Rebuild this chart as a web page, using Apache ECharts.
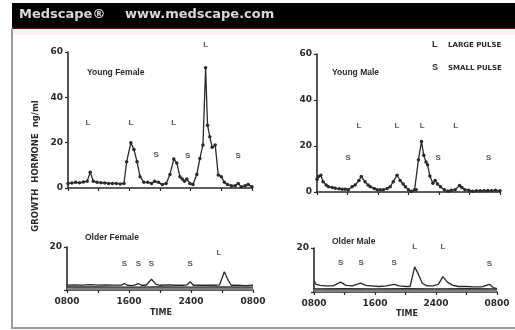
<!DOCTYPE html>
<html><head><meta charset="utf-8">
<script src="https://cdn.jsdelivr.net/npm/echarts@6/dist/echarts.min.js"></script>
<style>html,body{margin:0;padding:0;background:#fff}#c{width:515px;height:330px}</style>
</head><body><div id="c"></div>
<script>
// ---- tick labels ----
const xTickHours = [0, 8, 16, 24];
const xTickLabels = ['0800', '1600', '2400', '0800'];

// ---- Young Female (hours after 0800, ng/ml) ----
const yfHours = [0,0.5,1,1.5,2,2.5,2.9,3.3,3.8,4.3,4.8,5.3,5.8,6.3,6.8,7.3,7.65,8.2,8.6,9.0,9.4,9.9,10.4,10.9,11.3,11.8,12.3,12.8,13.3,13.8,14.2,14.6,14.9,15.2,15.5,15.9,16.3,16.8,17.2,17.6,17.95,18.2,18.5,18.8,19.2,19.6,20.0,20.4,20.8,21.3,21.8,22.2,22.6,23.1,23.5,24];
const yfValues = [2,2.2,2.5,2.3,2.6,3,7,3,2.5,2.3,2.2,2,2,2,1.8,2,11.6,20,17,11.6,5,2.5,2.5,2,3,2.5,1.5,2,6,12.8,11,5,4,3,4,2,1.5,6,13,19,53,27.7,22.6,18,19,5.7,5,2.5,1.5,1,1,2,0.5,1,1.5,0.5];
const yfPulseHours = [2.6,8.2,11.5,13.8,15.6,17.95,22.2];
const yfPulseValues = [28.7,28.7,14.5,28.7,14,63,14];
const yfPulseTypes = ['L','L','S','L','S','L','S'];

// ---- Young Male ----
const ymHours = [0,0.2,0.5,0.8,1.2,1.5,2,2.4,2.9,3.3,3.7,4.1,4.6,5,5.5,5.8,6.3,6.7,7,7.5,7.9,8.3,8.7,9.2,9.6,10,10.5,10.9,11.3,11.6,12,12.4,12.8,13.0,13.3,13.7,14,14.3,14.5,14.8,15.2,15.5,15.8,16.2,16.7,17.2,17.6,18.1,18.7,19,19.4,19.9,20.4,20.9,21.4,21.9,22.4,22.9,23.4,24];
const ymValues = [5.5,6.7,7.3,4.5,3,2.3,2,1.6,1.4,1.2,1.2,1,2.3,3,5,6.7,4.5,3,2.3,1.5,1,1,1,1.5,2.3,4.5,7.3,5,3.5,2.3,1,0.3,1,1,14,22,16,13,11.8,7,3.8,5,3.5,2.3,1,0.3,0.8,1,2.8,2,1,0.8,0.3,0.5,0.5,0.5,0.7,0.5,0.8,0.5];
const ymPulseHours = [4.1,5.5,10.5,13.8,15.9,18.2,22.5];
const ymPulseValues = [14.8,29,29,29,14.8,29,15];
const ymPulseTypes = ['S','L','L','L','S','L','S'];

// ---- Older Female ----
const ofHours = [0,1,2,3,4,5,6,7,7.4,7.8,8.3,8.8,9.2,9.6,10.2,10.9,11.5,12,13,14,15,15.5,15.9,16.3,17,18,19,19.7,20.3,20.8,21.2,22,23,24];
const ofValues = [2.3,2.4,2.3,2.5,2.3,2.4,2.3,2.3,3,2.2,2,2.4,3,2.2,2.2,5,2.6,2.2,2.4,2.2,2.2,2.4,3.8,2.2,2.2,2.3,2.2,2.4,8.5,4.5,2.2,2.2,2,2.2];
const ofBaseHours = [0,4,8,12,16,20,24];
const ofBaseValues = [1.5,1.5,1.3,1.5,1.4,1.5,1.4];
const ofPulseHours = [7.4,9.2,10.9,15.9,19.6];
const ofPulseValues = [12,12,12,12,17.5];
const ofPulseTypes = ['S','S','S','S','L'];

// ---- Older Male ----
const omHours = [0,0.3,0.8,1.5,2.5,3.5,4.2,5,6.1,6.8,7.5,8.5,9.5,10.5,11.2,12,12.6,13.2,13.7,14.2,14.8,15.6,16.3,16.9,17.5,18.2,19,20,21,22,23,23.5,24];
const omValues = [5,3.5,3,2.8,2.8,4.5,3,2.8,4,3,2.8,2.5,2.8,3.5,2.8,2.5,2.5,11.4,8,4,2.8,2.8,3.5,7,4.5,3,2.5,2.5,2.3,2.3,3.5,2,1.5];
const omBaseHours = [0,4,8,12,16,20,24];
const omBaseValues = [1.4,1.5,1.4,1.5,1.4,1.5,1.4];
const omPulseHours = [3.5,6.2,10.5,13.2,16.9,23];
const omPulseValues = [13.5,13.5,13.5,20.5,20.5,13];
const omPulseTypes = ['S','S','S','L','L','S'];

const INK = '#2a2a2a';
const zip = (a, b) => a.map((h, i) => [h, b[i]]);
const zip3 = (a, b, c) => a.map((h, i) => [h, b[i], c[i]]);

function xAxisFor(gi, showLabels) {
  return {
    type: 'value', gridIndex: gi, min: 0, max: 24, interval: 4,
    axisLine: { show: true, onZero: false, lineStyle: { color: INK, width: 1.6 } },
    axisTick: { show: true, length: 3, lineStyle: { color: INK, width: 1.2 } },
    splitLine: { show: false },
    axisLabel: {
      show: showLabels, showMinLabel: true, showMaxLabel: true, hideOverlap: false,
      formatter: v => { const i = xTickHours.indexOf(v); return i >= 0 ? xTickLabels[i] : ''; },
      color: INK, fontFamily: 'DejaVu Sans', fontWeight: 'bold', fontSize: 9, margin: 7
    }
  };
}
function yAxisFor(gi, max, hideZero) {
  return {
    type: 'value', gridIndex: gi, min: 0, max: max, interval: 20,
    axisLine: { show: true, lineStyle: { color: INK, width: 1.6 } },
    axisTick: { show: true, length: 3, lineStyle: { color: INK, width: 1.2 } },
    splitLine: { show: false },
    axisLabel: {
      showMinLabel: true, showMaxLabel: true,
      formatter: v => (hideZero && v === 0) ? '' : String(v),
      color: INK, fontFamily: 'DejaVu Sans', fontWeight: 'bold', fontSize: 9, margin: 5
    }
  };
}
function dataLine(gi, data, withDots) {
  return {
    type: 'line', xAxisIndex: gi, yAxisIndex: gi, data: data,
    showSymbol: withDots, symbol: 'circle', symbolSize: 3.5,
    itemStyle: { color: INK }, lineStyle: { color: INK, width: 1.3 },
    silent: true, z: 3
  };
}
function baseLine(gi, data) {
  return {
    type: 'line', xAxisIndex: gi, yAxisIndex: gi, data: data, showSymbol: false,
    lineStyle: { color: INK, width: 1.2 }, areaStyle: { color: '#808080', opacity: 1 },
    silent: true, z: 2
  };
}
function pulseLabels(gi, data) {
  return {
    type: 'scatter', xAxisIndex: gi, yAxisIndex: gi, data: data, clip: false,
    symbol: 'circle', symbolSize: 1, itemStyle: { color: 'rgba(0,0,0,0)' },
    label: { show: true, position: 'inside', formatter: p => p.value[2],
      color: INK, fontFamily: 'Liberation Sans', fontWeight: 'bold', fontSize: 8 },
    silent: true, z: 4
  };
}

const txt = (x, y, s, size, extra) => ({
  type: 'text', x: x, y: y, silent: true,
  style: Object.assign({ text: s, fill: INK, fontFamily: 'Liberation Sans', fontWeight: 'bold',
    fontSize: size, textAlign: 'left', textVerticalAlign: 'middle' }, extra || {})
});

const chart = echarts.init(document.getElementById('c'), null, { renderer: 'canvas' });
chart.setOption({
  animation: false,
  backgroundColor: '#ffffff',
  grid: [
    { left: 68, top: 52, width: 184, height: 136 },
    { left: 317, top: 54, width: 183, height: 138 },
    { left: 67, top: 247, width: 186, height: 43 },
    { left: 314, top: 248, width: 183, height: 44 }
  ],
  xAxis: [xAxisFor(0, false), xAxisFor(1, false), xAxisFor(2, true), xAxisFor(3, true)],
  yAxis: [yAxisFor(0, 60, false), yAxisFor(1, 60, false), yAxisFor(2, 20, true), yAxisFor(3, 20, true)],
  series: [
    dataLine(0, zip(yfHours, yfValues), true),
    pulseLabels(0, zip3(yfPulseHours, yfPulseValues, yfPulseTypes)),
    dataLine(1, zip(ymHours, ymValues), true),
    pulseLabels(1, zip3(ymPulseHours, ymPulseValues, ymPulseTypes)),
    baseLine(2, zip(ofBaseHours, ofBaseValues)),
    dataLine(2, zip(ofHours, ofValues), false),
    pulseLabels(2, zip3(ofPulseHours, ofPulseValues, ofPulseTypes)),
    baseLine(3, zip(omBaseHours, omBaseValues)),
    dataLine(3, zip(omHours, omValues), false),
    pulseLabels(3, zip3(omPulseHours, omPulseValues, omPulseTypes))
  ],
  graphic: [
    { type: 'rect', silent: true, shape: { x: 12, y: 29, width: 503, height: 6 }, style: { fill: '#fbf0f0' } },
    { type: 'rect', silent: true, shape: { x: 12, y: 3, width: 503, height: 25 }, style: { fill: '#000' } },
    { type: 'rect', silent: true, shape: { x: 12, y: 27.5, width: 503, height: 1.5 }, style: { fill: '#5c0d0d' } },
    { type: 'rect', silent: true, shape: { x: 11, y: 28, width: 2, height: 301 }, style: { fill: '#9a9a9a' } },
    { type: 'rect', silent: true, shape: { x: 11, y: 327, width: 504, height: 2 }, style: { fill: '#9a9a9a' } },
    txt(19, 15, 'Medscape\u00AE', 13, { fill: '#d8d8d8', fontFamily: 'DejaVu Sans' }),
    txt(125, 15, 'www.medscape.com', 13, { fill: '#d8d8d8', fontFamily: 'DejaVu Sans' }),
    txt(87, 73, 'Young Female', 8.5),
    txt(332, 73, 'Young Male', 8.5),
    txt(85, 238, 'Older Female', 8.5),
    txt(332, 242, 'Older Male', 8.5),
    txt(432, 45, 'L', 9),
    txt(448, 45, 'LARGE PULSE', 7, { fontFamily: 'DejaVu Sans' }),
    txt(432, 68, 'S', 9),
    txt(448, 68, 'SMALL PULSE', 7, { fontFamily: 'DejaVu Sans' }),
    txt(161, 313, 'TIME', 8, { textAlign: 'center', fontFamily: 'DejaVu Sans' }),
    txt(407, 314, 'TIME', 8, { textAlign: 'center', fontFamily: 'DejaVu Sans' }),
    Object.assign(txt(36, 166, 'GROWTH  HORMONE  ng/ml', 8.5, { textAlign: 'center', fontFamily: 'DejaVu Sans' }), { rotation: Math.PI / 2 })
  ]
});
</script>
</body></html>
